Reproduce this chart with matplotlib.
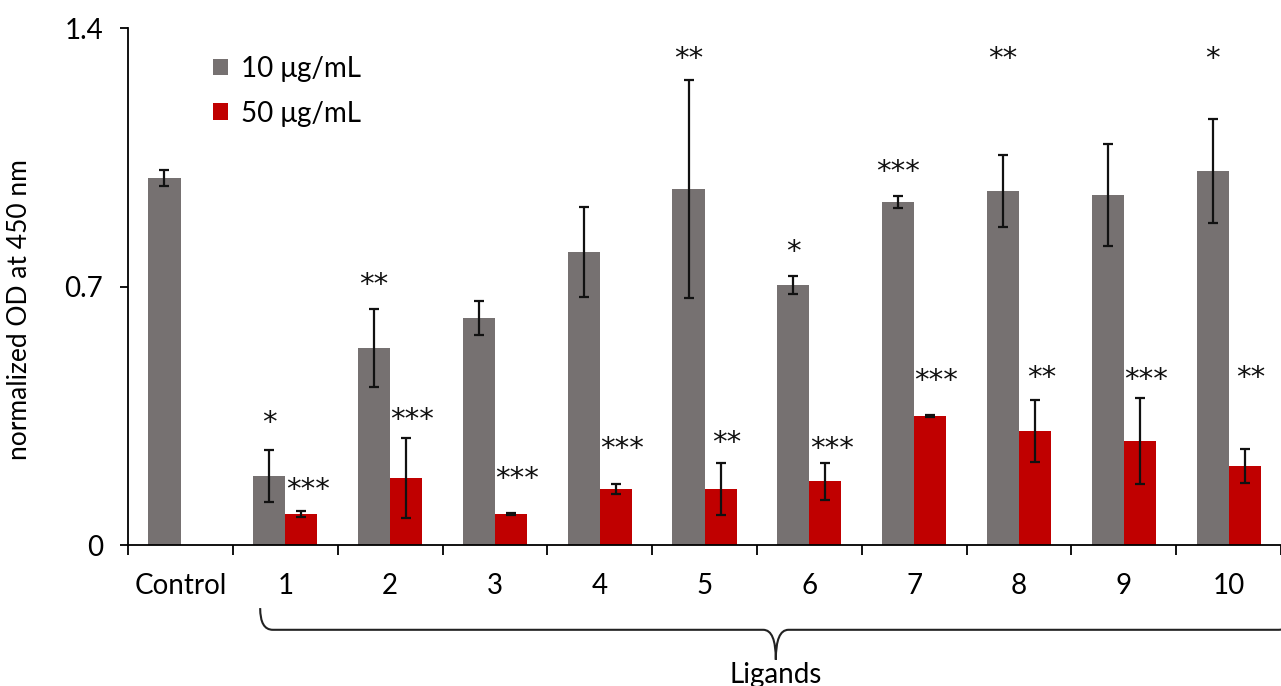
import matplotlib
matplotlib.use('Agg')
import matplotlib.pyplot as plt
import matplotlib.transforms as mtransforms
from matplotlib.path import Path
from matplotlib.patches import PathPatch
import numpy as np

plt.rcParams['font.family'] = ['Lato', 'DejaVu Sans']

# data
categories = ['Control', '1', '2', '3', '4', '5', '6', '7', '8', '9', '10']
low_dose = [0.994, 0.187, 0.533, 0.615, 0.793, 0.964, 0.704, 0.929, 0.959, 0.948, 1.013]
low_err = [0.022, 0.070, 0.106, 0.046, 0.122, 0.296, 0.024, 0.016, 0.097, 0.138, 0.141]
high_dose = [np.nan, 0.084, 0.181, 0.084, 0.152, 0.152, 0.173, 0.349, 0.309, 0.282, 0.214]
high_err = [np.nan, 0.008, 0.108, 0.002, 0.014, 0.070, 0.050, 0.003, 0.084, 0.116, 0.046]

# significance marks and where they sit (data units)
low_stars = ['', '*', '**', '', '', '**', '*', '***', '**', '', '*']
low_star_y = [0, 0.330, 0.705, 0, 0, 1.316, 0.795, 1.010, 1.316, 0, 1.316]
high_stars = ['', '***', '***', '***', '***', '**', '***', '***', '**', '***', '**']
high_star_y = [0, 0.150, 0.338, 0.178, 0.260, 0.276, 0.260, 0.444, 0.452, 0.447, 0.452]

grey = '#767171'
red = '#c00000'

fig = plt.figure(figsize=(12.81, 6.86), dpi=100)
ax = fig.add_axes([0.1, 0.2055, 0.9, 0.7535])

x = np.arange(len(categories))
w = 0.306
ax.bar(x - w / 2, low_dose, w, color=grey, label='10 μg/mL')
ax.bar(x + w / 2, high_dose, w, color=red, label='50 μg/mL')
ax.errorbar(x - w / 2, low_dose, yerr=low_err, fmt='none', ecolor='#111111',
            elinewidth=1.6, capsize=3.5, capthick=1.6)
ax.errorbar(x + w / 2, high_dose, yerr=high_err, fmt='none', ecolor='#111111',
            elinewidth=1.6, capsize=3.5, capthick=1.6)

for i in range(len(categories)):
    if low_stars[i]:
        ax.text(x[i] - w / 2, low_star_y[i], low_stars[i], ha='center', va='center',
                fontsize=21, family='DejaVu Sans', color='#111111')
    if high_stars[i]:
        ax.text(x[i] + w / 2 + 0.06, high_star_y[i], high_stars[i], ha='center', va='center',
                fontsize=21, family='DejaVu Sans', color='#111111')

ax.set_xlim(-0.5, len(categories) - 0.5)
ax.set_ylim(0, 1.4)
ax.set_yticks([0, 0.7, 1.4])
ax.set_yticklabels(['0', '0.7', '1.4'])
ax.set_xticks(np.arange(len(categories) + 1) - 0.5)
ax.set_xticklabels([])
ax.set_xticks(x, minor=True)
ax.set_xticklabels(categories, minor=True)
ax.tick_params(axis='x', which='major', length=7, width=1.3, direction='out')
ax.tick_params(axis='x', which='minor', length=0, pad=20, labelsize=20)
ax.tick_params(axis='y', length=6, width=1.3, direction='out', pad=12, labelsize=20)

for s in ['top', 'right']:
    ax.spines[s].set_visible(False)
for s in ['left', 'bottom']:
    ax.spines[s].set_linewidth(1.3)

ax.set_ylabel('normalized OD at 450 nm', fontsize=19)
ax.yaxis.set_label_coords(-0.083, 0.455)

ax.legend(loc='upper left', bbox_to_anchor=(0.064, 0.968), frameon=False, fontsize=20,
          handlelength=0.55, handleheight=0.55, handletextpad=0.45, labelspacing=0.68,
          borderaxespad=0)

# curly brace under ligands 1-10
trans = mtransforms.blended_transform_factory(ax.transData, ax.transAxes)
x0, x1 = 0.76, 10.6
xc = (x0 + x1) / 2
ytop, ymid, ytip = -0.122, -0.164, -0.222
verts = [(x0, ytop), (x0, ymid), (x0 + 0.12, ymid),
         (xc - 0.12, ymid), (xc, ymid), (xc, ytip),
         (xc, ytip), (xc, ymid), (xc + 0.12, ymid),
         (x1 - 0.12, ymid), (x1, ymid), (x1, ytop)]
codes = [Path.MOVETO, Path.CURVE3, Path.CURVE3,
         Path.LINETO, Path.CURVE3, Path.CURVE3,
         Path.MOVETO, Path.CURVE3, Path.CURVE3,
         Path.LINETO, Path.CURVE3, Path.CURVE3]
brace = PathPatch(Path(verts, codes), transform=trans, fill=False, lw=1.5,
                  edgecolor='#222222', clip_on=False)
ax.add_patch(brace)
ax.text(xc, -0.252, 'Ligands', transform=trans, ha='center', va='center', fontsize=20)

fig.savefig('out.png', dpi=100)
